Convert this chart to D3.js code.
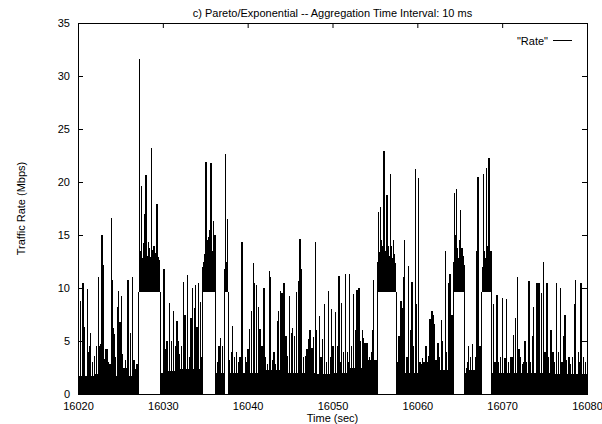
<!DOCTYPE html>
<html>
<head>
<meta charset="utf-8">
<script src="https://cdn.jsdelivr.net/npm/d3@7"></script>
<style>
  body { margin: 0; background: #fff; overflow: hidden; }
  text { font-family: "Liberation Sans", Arial, Helvetica, sans-serif; font-size: 11px; fill: #000; }
</style>
</head>
<body>
<div id="chart"></div>
<script>
// ---- data ----
var title = "c) Pareto/Exponential -- Aggregation Time Interval: 10 ms";
var xTicks = [16020, 16030, 16040, 16050, 16060, 16070, 16080];
var yTicks = [0, 5, 10, 15, 20, 25, 30, 35];

// "on" bursts: rate sits on a floor of ~9.6 Mbps
var onStart = [16027.15, 16034.66, 16037.25, 16055.25, 16064.24, 16067.62];
var onEnd   = [16029.71, 16036.23, 16037.72, 16057.52, 16065.58, 16068.76];
var onFloor = [9.6, 9.6, 9.6, 9.6, 9.6, 9.6];
var onTop   = [12.0, 12.0, 11.5, 12.0, 12.0, 11.8];

// dense low-rate mass (top of the solid black band), per 2 s bin
var baseTime = [16020, 16022, 16024, 16026, 16028, 16030, 16032, 16034, 16036, 16038,
                16040, 16042, 16044, 16046, 16048, 16050, 16052, 16054, 16056, 16058,
                16060, 16062, 16064, 16066, 16068, 16070, 16072, 16074, 16076, 16078];
var baseTop  = [1.7, 1.9, 1.7, 1.7, 2.0, 2.2, 2.4, 2.4, 2.0, 2.0,
                2.0, 2.3, 2.0, 2.0, 1.9, 2.0, 2.5, 3.2, 2.0, 2.0,
                2.0, 2.3, 2.0, 2.3, 2.0, 2.0, 2.0, 2.0, 1.9, 1.9];

// individual peaks (sec, Mbps)
var spikeTime = [
  16020.05, 16020.31, 16020.59, 16020.71, 16021.10, 16021.22, 16021.34, 16021.49, 16021.96, 16022.20,
  16022.44, 16022.51, 16022.67, 16022.83, 16022.99, 16023.30, 16023.46, 16023.77, 16023.93, 16024.05,
  16024.17, 16024.28, 16024.64, 16024.79, 16024.95, 16025.11, 16025.42, 16025.74, 16025.89, 16026.21,
  16026.44, 16026.60, 16027.23, 16027.47, 16027.86, 16028.02, 16028.33, 16028.68, 16029.08, 16029.31,
  16029.55, 16030.14, 16030.49, 16030.81, 16031.04, 16031.28, 16031.51, 16031.67, 16031.83, 16032.22,
  16032.46, 16032.61, 16032.93, 16033.16, 16033.32, 16033.48, 16033.71, 16033.87, 16034.03, 16034.18,
  16034.42, 16034.58, 16035.09, 16035.56, 16035.68, 16035.95, 16036.15, 16036.46, 16036.62, 16036.78,
  16037.01, 16037.37, 16037.64, 16038.25, 16038.47, 16038.70, 16039.33, 16039.41, 16039.72, 16040.20,
  16040.43, 16040.67, 16040.83, 16041.06, 16041.30, 16041.45, 16041.69, 16041.93, 16042.55, 16042.71,
  16043.50, 16043.65, 16043.89, 16044.05, 16044.28, 16044.52, 16044.91, 16045.15, 16045.30, 16045.54,
  16045.78, 16046.01, 16046.17, 16046.33, 16046.56, 16046.80, 16047.19, 16047.35, 16047.58, 16047.74,
  16048.00, 16048.15, 16048.49, 16048.84, 16049.08, 16049.51, 16049.74, 16049.90, 16050.06, 16050.37,
  16050.61, 16050.77, 16050.92, 16051.08, 16051.32, 16051.55, 16052.02, 16052.26, 16052.50, 16052.73,
  16052.89, 16053.12, 16053.28, 16053.52, 16053.67, 16053.83, 16054.07, 16054.38, 16054.62, 16054.77,
  16054.85, 16055.40, 16055.64, 16055.87, 16056.07, 16056.27, 16056.42, 16056.58, 16056.82, 16056.97,
  16057.21, 16057.37, 16057.84, 16058.07, 16058.19, 16058.33, 16058.51, 16058.78, 16058.98, 16059.21,
  16059.37, 16059.53, 16059.76, 16059.92, 16060.16, 16060.31, 16060.79, 16061.02, 16061.49, 16061.73,
  16061.89, 16062.04, 16062.44, 16062.83, 16062.99, 16063.30, 16063.46, 16063.69, 16063.85, 16064.09,
  16064.40, 16064.64, 16064.87, 16065.11, 16065.26, 16065.42, 16066.05, 16066.29, 16066.52, 16066.84,
  16066.99, 16067.15, 16067.31, 16067.47, 16067.78, 16068.02, 16068.17, 16068.45, 16068.68, 16068.96,
  16069.39, 16070.02, 16070.33, 16070.49, 16070.96, 16071.36, 16071.59, 16071.83, 16071.98, 16072.53,
  16072.69, 16073.16, 16073.56, 16073.71, 16074.11, 16074.22, 16074.34, 16074.66, 16074.89, 16075.05,
  16075.28, 16075.76, 16075.99, 16076.39, 16076.62, 16076.86, 16077.25, 16077.41, 16077.88, 16078.27,
  16078.51, 16078.66, 16078.98, 16079.30];
var spikeRate = [
  6.2, 8.8, 10.5, 6.3, 9.9, 4.0, 4.5, 5.8, 3.6, 4.5,
  11.0, 4.5, 4.7, 15.0, 12.2, 4.2, 4.2, 2.8, 16.6, 10.8,
  6.2, 5.7, 8.2, 9.7, 6.8, 9.2, 2.5, 2.5, 10.8, 5.8,
  11.0, 3.2, 31.6, 19.6, 17.0, 20.7, 14.3, 23.2, 12.7, 17.9,
  11.0, 11.8, 5.0, 8.6, 5.0, 7.8, 4.5, 6.9, 5.0, 4.5,
  10.6, 7.5, 11.2, 3.5, 7.2, 10.0, 8.1, 10.3, 6.3, 10.5,
  8.7, 3.5, 21.9, 15.5, 21.8, 16.3, 15.0, 3.0, 4.5, 5.3,
  4.5, 22.6, 16.5, 6.4, 3.5, 4.0, 14.3, 10.5, 3.5, 6.1,
  7.8, 12.4, 10.5, 10.3, 8.2, 6.1, 4.5, 10.0, 11.6, 11.0,
  6.9, 7.8, 9.7, 9.5, 10.5, 5.5, 9.2, 5.8, 6.2, 5.5,
  9.6, 10.7, 14.6, 11.8, 3.5, 3.6, 5.2, 6.0, 4.3, 5.4,
  14.3, 6.0, 7.4, 5.2, 8.5, 9.7, 3.5, 8.0, 4.5, 7.7,
  4.5, 11.1, 3.0, 8.6, 4.0, 11.3, 11.3, 4.5, 9.4, 6.0,
  9.8, 10.0, 5.0, 6.0, 5.3, 4.8, 4.8, 3.5, 4.0, 6.0,
  10.8, 17.2, 17.6, 14.0, 22.9, 13.5, 18.8, 14.0, 20.8, 13.0,
  14.5, 11.5, 5.5, 8.8, 8.1, 11.0, 14.5, 3.5, 12.1, 6.0,
  10.6, 4.5, 21.2, 8.5, 20.4, 3.0, 3.0, 4.5, 7.1, 7.8,
  7.5, 6.6, 4.8, 7.0, 5.0, 13.5, 4.0, 10.5, 11.3, 7.5,
  19.0, 19.3, 12.8, 17.4, 13.8, 13.0, 4.5, 3.5, 4.7, 3.5,
  13.5, 20.5, 4.5, 4.5, 20.8, 10.5, 21.3, 22.3, 13.5, 8.5,
  9.3, 9.1, 3.4, 9.0, 3.5, 5.6, 7.2, 11.0, 4.2, 3.0,
  5.0, 10.7, 5.5, 8.2, 10.5, 9.5, 10.5, 9.5, 12.5, 4.0,
  10.5, 6.0, 4.0, 10.5, 4.0, 10.0, 5.5, 7.5, 3.5, 3.5,
  8.5, 10.8, 4.0, 10.5];

// smaller peaks: the ragged top of the bursts and the low forest between the big peaks
var minorTime = [
  16027.35, 16027.60, 16027.70, 16028.15, 16028.45, 16028.55, 16028.85, 16028.95, 16029.20, 16029.45,
  16029.65, 16034.80, 16034.95, 16035.20, 16035.30, 16035.45, 16035.80, 16036.05, 16037.30, 16037.50,
  16055.30, 16055.50, 16055.75, 16055.95, 16056.17, 16056.35, 16056.50, 16056.68, 16056.90, 16057.10,
  16057.30, 16057.45, 16064.30, 16064.50, 16064.75, 16064.95, 16065.20, 16065.35, 16065.50, 16067.70,
  16067.90, 16068.10, 16068.30, 16068.55,
  16021.70, 16023.15, 16023.60, 16024.45, 16025.25, 16025.58, 16026.80, 16026.95, 16030.30, 16032.00,
  16037.90, 16038.05, 16038.90, 16039.10, 16039.90, 16040.05, 16042.10, 16042.30, 16042.90, 16043.10,
  16043.30, 16044.70, 16047.00, 16048.65, 16049.30, 16051.75, 16051.90, 16057.68, 16060.50, 16060.65,
  16061.20, 16061.35, 16062.20, 16062.65, 16065.75, 16065.90, 16069.15, 16069.60, 16069.80, 16070.70,
  16071.15, 16072.20, 16072.40, 16072.90, 16073.35, 16075.50, 16076.20, 16077.05, 16077.60, 16078.10,
  16079.15, 16079.55, 16079.80];
var minorRate = [
  13.5, 12.8, 14.2, 13.0, 13.8, 12.9, 13.6, 14.0, 13.3, 12.9,
  12.6, 12.5, 13.2, 14.5, 13.0, 14.8, 13.5, 14.0, 11.8, 12.5,
  12.5, 13.4, 14.5, 13.2, 15.0, 13.6, 14.2, 13.0, 14.0, 12.8,
  13.2, 12.4, 12.5, 15.0, 13.8, 14.5, 13.0, 12.8, 12.2, 12.0,
  13.5, 12.8, 14.0, 12.5,
  3.0, 3.3, 3.0, 3.5, 3.8, 3.2, 2.4, 2.8, 4.2, 3.8,
  3.2, 4.0, 3.0, 3.5, 3.0, 4.2, 3.5, 2.8, 3.2, 4.0,
  2.8, 3.6, 4.2, 3.5, 3.0, 4.0, 3.0, 3.0, 2.8, 3.4,
  3.0, 3.6, 3.2, 3.5, 2.5, 3.0, 3.0, 3.0, 3.5, 3.0,
  3.5, 3.5, 2.8, 3.0, 3.0, 3.5, 3.0, 3.0, 3.2, 2.8,
  3.0, 3.5, 3.0];

// ---- layout ----
var W = 602, H = 424;
var mLeft = 78, mRight = 587, mTop = 23, mBottom = 394;

var svg = d3.select("#chart").append("svg")
    .attr("width", W)
    .attr("height", H)
    .style("display", "block");

var x = d3.scaleLinear().domain([16020, 16080]).range([mLeft, mRight]);
var y = d3.scaleLinear().domain([0, 35]).range([mBottom, mTop]);

function floorAt(t) {
    for (var i = 0; i < onStart.length; i++) {
        if (t >= onStart[i] && t <= onEnd[i]) return onFloor[i];
    }
    return 0;
}

var plot = svg.append("g").attr("shape-rendering", "crispEdges");

// low-rate solid band, cut out where a burst is on
for (var i = 0; i < baseTime.length; i++) {
    var a = baseTime[i],
        b = (i + 1 < baseTime.length) ? baseTime[i + 1] : 16080;
    var pieces = [[a, b]];
    for (var k = 0; k < onStart.length; k++) {
        var next = [];
        for (const p of pieces) {
            if (onEnd[k] <= p[0] || onStart[k] >= p[1]) { next.push(p); continue; }
            if (onStart[k] > p[0]) next.push([p[0], onStart[k]]);
            if (onEnd[k] < p[1]) next.push([onEnd[k], p[1]]);
        }
        pieces = next;
    }
    for (const p of pieces) {
        plot.append("rect")
            .attr("x", x(p[0]))
            .attr("width", x(p[1]) - x(p[0]))
            .attr("y", y(baseTop[i]))
            .attr("height", y(0) - y(baseTop[i]))
            .attr("fill", "#000");
    }
}

// burst bands and their vertical edges
for (var k = 0; k < onStart.length; k++) {
    plot.append("rect")
        .attr("x", x(onStart[k]))
        .attr("width", x(onEnd[k]) - x(onStart[k]))
        .attr("y", y(onTop[k]))
        .attr("height", y(onFloor[k]) - y(onTop[k]))
        .attr("fill", "#000");
    [onStart[k], onEnd[k]].forEach(function(t) {
        plot.append("line")
            .attr("x1", x(t)).attr("x2", x(t))
            .attr("y1", y(0)).attr("y2", y(onFloor[k]))
            .attr("stroke", "#000").attr("stroke-width", 1);
    });
}

// peaks, each a vertical stroke up from the local floor
function drawPeaks(times, rates, cls) {
    plot.selectAll("line." + cls)
        .data(d3.range(times.length))
        .enter().append("line")
        .attr("class", cls)
        .attr("x1", function(i) { return x(times[i]); })
        .attr("x2", function(i) { return x(times[i]); })
        .attr("y1", function(i) { return y(floorAt(times[i])); })
        .attr("y2", function(i) { return y(rates[i]); })
        .attr("stroke", "#000")
        .attr("stroke-width", 1.2);
}
drawPeaks(minorTime, minorRate, "minor");
drawPeaks(spikeTime, spikeRate, "spike");

// ---- axes (gnuplot style: inward ticks on all four sides) ----
var tick = 5;
function clean(g) { g.select(".domain").remove(); g.selectAll("line").attr("stroke", "#000"); }

svg.append("g")
    .attr("transform", "translate(0," + mBottom + ")")
    .call(d3.axisBottom(x).tickValues(xTicks).tickFormat(d3.format("d")).tickSize(-tick).tickPadding(8))
    .call(clean);
svg.append("g")
    .attr("transform", "translate(0," + mTop + ")")
    .call(d3.axisTop(x).tickValues(xTicks).tickFormat("").tickSize(-tick))
    .call(clean);
svg.append("g")
    .attr("transform", "translate(" + mLeft + ",0)")
    .call(d3.axisLeft(y).tickValues(yTicks).tickFormat(d3.format("d")).tickSize(-tick).tickPadding(8))
    .call(clean);
svg.append("g")
    .attr("transform", "translate(" + mRight + ",0)")
    .call(d3.axisRight(y).tickValues(yTicks).tickFormat("").tickSize(-tick))
    .call(clean);

svg.selectAll(".tick text")
    .attr("font-family", null)
    .attr("font-size", null)
    .attr("fill", "#000");

// frame
svg.append("rect")
    .attr("x", mLeft + 0.5).attr("y", mTop + 0.5)
    .attr("width", mRight - mLeft).attr("height", mBottom - mTop)
    .attr("fill", "none").attr("stroke", "#000").attr("stroke-width", 1);

// labels
svg.append("text")
    .attr("x", (mLeft + mRight) / 2).attr("y", 16.5)
    .attr("text-anchor", "middle")
    .text(title);
svg.append("text")
    .attr("x", (mLeft + mRight) / 2).attr("y", 422)
    .attr("text-anchor", "middle")
    .text("Time (sec)");
svg.append("text")
    .attr("transform", "translate(25," + ((mTop + mBottom) / 2) + ") rotate(-90)")
    .attr("text-anchor", "middle")
    .text("Traffic Rate (Mbps)");

// key
svg.append("text")
    .attr("x", 548).attr("y", 44.5)
    .attr("text-anchor", "end")
    .text("\"Rate\"");
svg.append("line")
    .attr("x1", 553).attr("x2", 572)
    .attr("y1", 40.5).attr("y2", 40.5)
    .attr("stroke", "#000").attr("stroke-width", 1);
</script>
</body>
</html>
